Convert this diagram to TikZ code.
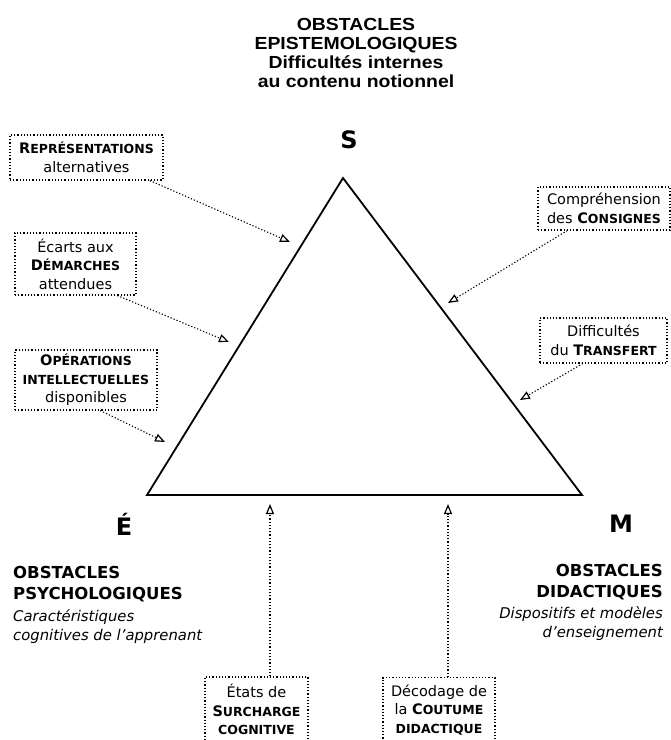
\documentclass[tikz,border=0pt]{standalone}
\usepackage{fontspec}
\setmainfont{DejaVu Sans}
\newfontfamily\titlefont{Liberation Sans}[FakeStretch=1.11]
\usetikzlibrary{arrows.meta, positioning}
\newcommand{\petcap}[2]{{\bfseries #1\fontsize{12.5}{18.5}\selectfont #2}}

\begin{document}
\begin{tikzpicture}[x=1pt, y=1pt,
    notebox/.style={rectangle, draw, dash pattern=on 1.2pt off 2pt, line width=1.1pt, align=center, inner xsep=4pt, inner ysep=3pt, font=\fontsize{14.5}{18.5}\selectfont},
    hint/.style={dash pattern=on 1.2pt off 2pt, line width=1.1pt, -{Triangle[open, length=10pt, width=8pt, line width=1.2pt]}},
    tri/.style={line width=1.8pt},
    vertex/.style={anchor=base, font=\fontsize{24}{28}\selectfont\bfseries},
    pole/.style={inner sep=0pt, font=\fontsize{16.5}{21.5}\selectfont\bfseries},
    polenote/.style={inner sep=0pt, font=\fontsize{14.8}{18.5}\selectfont\itshape}]
    \useasboundingbox (0,0) rectangle (671,-740);
    % Title
    \node[anchor=north, inner sep=0pt, align=center, font=\titlefont\bfseries\fontsize{17.5}{19}\selectfont] (epist) at (356,-18) {OBSTACLES\\EPISTEMOLOGIQUES\\Difficultés internes\\au contenu notionnel};
    % Triangle
    \coordinate (apexS) at (343,-178);
    \coordinate (cornerE) at (147,-495);
    \coordinate (cornerM) at (582,-495);
    \draw[tri] (apexS) -- (cornerE) -- (cornerM) -- cycle;
    \node[vertex] (sLab) at (349,-148) {S};
    \node[vertex] (eLab) at (124,-535) {É};
    \node[vertex] (mLab) at (621,-532) {M};
    % Poles
    \node[pole, anchor=north west, align=left] (psyTitle) at (13,-566) {OBSTACLES\\PSYCHOLOGIQUES};
    \node[polenote, below=7pt of psyTitle.south west, anchor=north west, align=left] (psyNote) {Caractéristiques\\cognitives de l'apprenant};
    \node[pole, anchor=north east, align=right] (didTitle) at (663,-564) {OBSTACLES\\DIDACTIQUES};
    \node[polenote, below=6pt of didTitle.south east, anchor=north east, align=right] (didNote) {Dispositifs et modèles\\d'enseignement};
    % Left boxes
    \node[notebox, minimum width=153, minimum height=45] (rep) at (86.5,-157.5) {\petcap{R}{EPRÉSENTATIONS}\\alternatives};
    \node[notebox, minimum width=121, minimum height=62] (ecarts) at (75.5,-264) {Écarts aux\\\petcap{D}{ÉMARCHES}\\attendues};
    \node[notebox, minimum width=142, minimum height=60] (oper) at (86,-380) {\petcap{O}{PÉRATIONS}\\\petcap{}{INTELLECTUELLES}\\disponibles};
    % Right boxes
    \node[notebox, minimum width=132, minimum height=43] (consig) at (604,-208.5) {Compréhension\\des \petcap{C}{ONSIGNES}};
    \node[notebox, minimum width=127, minimum height=45] (transf) at (603.5,-340.5) {Difficultés\\du \petcap{T}{RANSFERT}};
    % Bottom boxes
    \node[notebox, minimum width=103, minimum height=65] (surch) at (256.5,-709.5) {États de\\\petcap{S}{URCHARGE}\\\petcap{}{COGNITIVE}};
    \node[notebox, minimum width=112, minimum height=65] (coutume) at (439,-710) {Décodage de\\la \petcap{C}{OUTUME}\\\petcap{}{DIDACTIQUE}};
    % Arrow tips
    \coordinate (tRep) at (290,-242);
    \coordinate (tEca) at (229,-342);
    \coordinate (tOpe) at (165,-442);
    \coordinate (tCon) at (448,-303);
    \coordinate (tTra) at (520,-400);
    \coordinate (tSur) at (270,-504);
    \coordinate (tCou) at (448,-504);
    % Arrows
    \draw[hint] (rep.-20) -- (tRep);
    \draw[hint] (ecarts.-37) -- (tEca);
    \draw[hint] (oper.-65) -- (tOpe);
    \draw[hint] (consig.-149) -- (tCon);
    \draw[hint] (transf.-132) -- (tTra);
    \draw[hint] (surch.north -| tSur) -- (tSur);
    \draw[hint] (coutume.north -| tCou) -- (tCou);
\end{tikzpicture}
\end{document}
